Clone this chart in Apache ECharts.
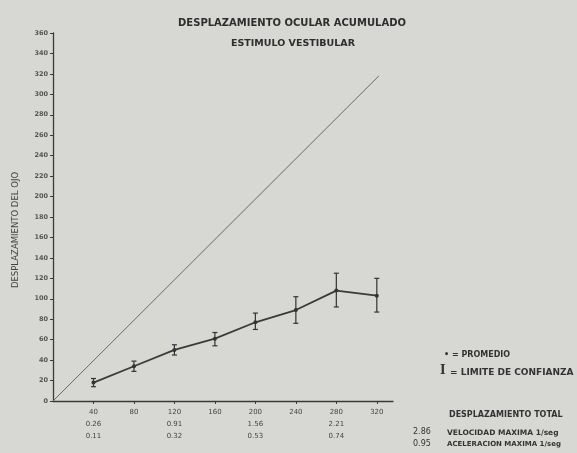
<!DOCTYPE html>
<html>
<head>
<meta charset="utf-8">
<script src="https://cdn.jsdelivr.net/npm/echarts@6/dist/echarts.min.js"></script>
<style>
html,body{margin:0;padding:0;background:#d7d8d4;}
#c{width:577px;height:453px;}
</style>
</head>
<body>
<div id="c"></div>
<script>
// Data
var stimulus = [40, 80, 120, 160, 200, 240, 280, 320];
var promedio = [18, 34, 50, 61, 77, 89, 108, 103];
var limInf = [14, 29, 45, 54, 70, 76, 92, 87];
var limSup = [22, 39, 55, 67, 86, 102, 125, 120];
var diagonal = [[0, 0], [322, 318]];
var velocidadRow = {40: '0.26', 120: '0.91', 200: '1.56', 280: '2.21'};
var aceleracionRow = {40: '0.11', 120: '0.32', 200: '0.53', 280: '0.74'};
var yTicks = [0,20,40,60,80,100,120,140,160,180,200,220,240,260,280,300,320,340,360];
var totalVelocidad = '2.86';
var totalAceleracion = '0.95';

var ink = '#3a3a3a';
var font = 'DejaVu Sans';

var chart = echarts.init(document.getElementById('c'));
chart.setOption({
  backgroundColor: '#d7d8d4',
  animation: false,
  title: [
    {text: 'DESPLAZAMIENTO OCULAR ACUMULADO', left: 287, top: 13, textAlign: 'center',
     textStyle: {fontFamily: font, fontSize: 10, fontWeight: 'bold', color: '#2e2e2e'}},
    {text: 'ESTIMULO VESTIBULAR', left: 288, top: 34, textAlign: 'center',
     textStyle: {fontFamily: font, fontSize: 9.5, fontWeight: 'bold', color: '#2e2e2e'}}
  ],
  grid: {left: 53, right: 184, top: 33, bottom: 52},
  xAxis: {
    type: 'value', min: 0, max: 336, interval: 40,
    axisLine: {lineStyle: {color: ink, width: 1.3}},
    axisTick: {length: 3, lineStyle: {color: ink}},
    splitLine: {show: false},
    axisLabel: {
      showMinLabel: false, showMaxLabel: false,
      fontFamily: font, fontSize: 7, color: '#444', lineHeight: 12, margin: 5,
      formatter: function (v) {
        if (stimulus.indexOf(v) < 0) return '';
        var s = String(v);
        if (velocidadRow[v]) s += '\n' + velocidadRow[v] + '\n' + aceleracionRow[v];
        return s;
      }
    }
  },
  yAxis: {
    type: 'value', min: 0, max: 360, interval: 20,
    axisLine: {show: true, lineStyle: {color: ink, width: 1.3}},
    axisTick: {show: true, length: 3, lineStyle: {color: ink}},
    splitLine: {show: false},
    axisLabel: {fontFamily: font, fontSize: 6.5, fontWeight: 'bold', color: '#555', margin: 5,
      formatter: function (v) { return yTicks.indexOf(v) >= 0 ? String(v) : ''; }}
  },
  series: [
    {
      type: 'line', data: diagonal, symbol: 'none',
      lineStyle: {color: '#6a6a6a', width: 1}
    },
    {
      type: 'line', data: stimulus.map(function (x, i) { return [x, promedio[i]]; }),
      symbol: 'circle', symbolSize: 4,
      itemStyle: {color: '#333'},
      lineStyle: {color: '#3a3a3a', width: 1.8}
    },
    {
      type: 'custom',
      data: stimulus.map(function (x, i) { return [x, limInf[i], limSup[i]]; }),
      renderItem: function (params, api) {
        var x = api.value(0);
        var lo = api.coord([x, api.value(1)]);
        var hi = api.coord([x, api.value(2)]);
        var w = 2.5;
        var st = {stroke: '#333', lineWidth: 1.2};
        return {type: 'group', children: [
          {type: 'line', shape: {x1: lo[0], y1: lo[1], x2: hi[0], y2: hi[1]}, style: st},
          {type: 'line', shape: {x1: lo[0] - w, y1: lo[1], x2: lo[0] + w, y2: lo[1]}, style: st},
          {type: 'line', shape: {x1: hi[0] - w, y1: hi[1], x2: hi[0] + w, y2: hi[1]}, style: st}
        ]};
      },
      z: 3
    }
  ],
  graphic: [
    {type: 'text', x: 16, y: 230, rotation: Math.PI / 2, style: {text: 'DESPLAZAMIENTO DEL OJO', font: '8.5px ' + font, fill: '#444', align: 'center', verticalAlign: 'middle'}},
    {type: 'text', left: 444, top: 351, style: {text: '\u2022 = PROMEDIO', font: 'bold 8px ' + font, fill: '#333'}},
    {type: 'text', left: 440, top: 365, style: {text: 'I', font: 'bold 12px "DejaVu Serif"', fill: '#333'}},
    {type: 'text', left: 450, top: 368, style: {text: '= LIMITE DE CONFIANZA', font: 'bold 9px ' + font, fill: '#333'}},
    {type: 'text', left: 449, top: 411, style: {text: 'DESPLAZAMIENTO TOTAL', font: 'bold 8px ' + font, fill: '#333'}},
    {type: 'text', left: 413, top: 428, style: {text: totalVelocidad, font: '8px ' + font, fill: '#333'}},
    {type: 'text', left: 447, top: 429, style: {text: 'VELOCIDAD MAXIMA 1/seg', font: 'bold 7.5px ' + font, fill: '#333'}},
    {type: 'text', left: 413, top: 440, style: {text: totalAceleracion, font: '8px ' + font, fill: '#333'}},
    {type: 'text', left: 447, top: 441, style: {text: 'ACELERACION MAXIMA 1/seg', font: 'bold 7px ' + font, fill: '#333'}}
  ]
});
</script>
</body>
</html>
